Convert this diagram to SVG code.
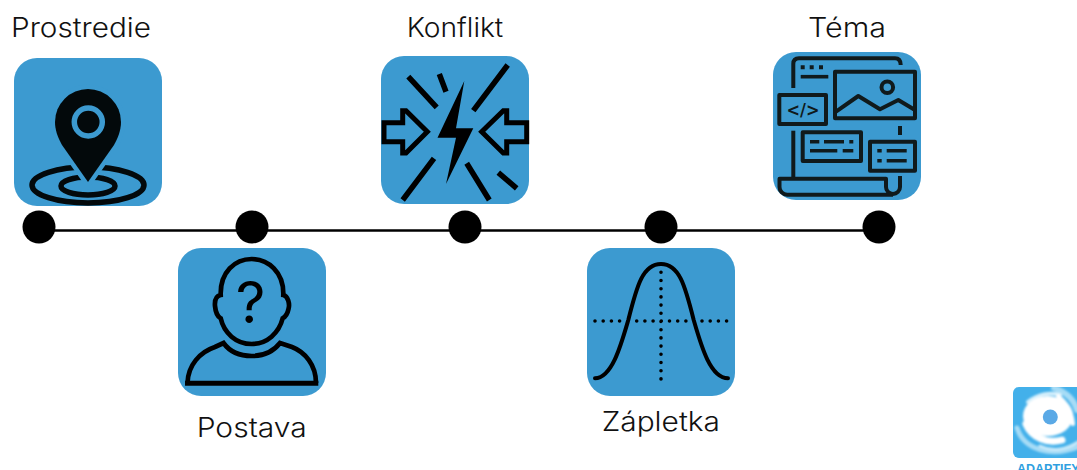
<svg xmlns="http://www.w3.org/2000/svg" width="1077" height="470" viewBox="0 0 1077 470">
<style>
.card{fill:#3c9ad0}
.lbl{font-family:"Inter","Noto Sans",sans-serif;font-weight:300;font-size:26.5px;fill:#111}
.ink{fill:none;stroke:#000;stroke-width:5;stroke-linejoin:miter}
.t{fill:none;stroke:#101a1c;stroke-width:4;stroke-linejoin:round}
.th{fill:none;stroke:#101a1c;stroke-width:3.6}
.dot{fill:#000}
.dots{fill:none;stroke:#000;stroke-width:3.6;stroke-linecap:round;stroke-dasharray:0 8.2}
</style>
<defs><filter id="soft" x="-10%" y="-10%" width="120%" height="120%"><feGaussianBlur stdDeviation="1"/></filter>
<clipPath id="logoclip"><rect x="1013" y="387" width="80" height="71" rx="6"/></clipPath></defs>
<rect width="1077" height="470" fill="#fff"/>
<g id="connectors">
<line x1="39" y1="230.500" x2="879" y2="230.500" stroke="#000" stroke-width="2.600"/>
</g>
<g id="dot-1"><circle class="dot" cx="39" cy="227" r="16.500"/></g>
<g id="dot-2"><circle class="dot" cx="252" cy="227" r="16.500"/></g>
<g id="dot-3"><circle class="dot" cx="465" cy="227" r="16.500"/></g>
<g id="dot-4"><circle class="dot" cx="661" cy="227" r="16.500"/></g>
<g id="dot-5"><circle class="dot" cx="879" cy="227" r="16.500"/></g>

<g id="prostredie">
<text class="lbl" x="11" y="37" textLength="140" lengthAdjust="spacingAndGlyphs">Prostredie</text>
<rect class="card" x="14" y="58" width="148" height="148" rx="23"/>
<ellipse cx="88" cy="185" rx="56" ry="18" fill="none" stroke="#03090b" stroke-width="5.500"/>
<ellipse cx="88" cy="186" rx="27" ry="9" fill="none" stroke="#03090b" stroke-width="5.500"/>
<path d="M88 182L62 145C58 138 55 130 55 122A33 33 0 0 1 121 122C121 130 118 138 114 145Z" fill="#03090b" stroke="#3c9ad0" stroke-width="9" paint-order="stroke"/>
<circle cx="88.300" cy="122" r="14" fill="#03090b" stroke="#3c9ad0" stroke-width="5.500"/>
</g>

<g id="konflikt">
<text class="lbl" x="406.700" y="36.700" textLength="96.600" lengthAdjust="spacingAndGlyphs">Konflikt</text>
<rect class="card" x="381" y="56" width="148" height="148" rx="23"/>
<polygon fill="#000" points="464.300,81 437.500,137.700 456,137.700 446,184 473.300,128.300 456,128.300"/>
<path class="ink" style="stroke-width:5.500" d="M408.300 76.700L436.700 107.300M439.300 74L446 91.700M507.700 65L473.300 110.700M434 158.300L402.700 200M466.700 163.300L489.300 200M498.300 172.700L516.700 188.300"/>
<path class="ink" d="M384 122.700H402.700V110.700H406L427.300 131.700L406 153H402.700V141.700H384Z"/>
<path class="ink" d="M526.700 122.700H506.700V110.700H503.300L481.700 131.700L503.300 153H506.700V141.700H526.700Z"/>
</g>

<g id="tema">
<text class="lbl" x="808" y="36.700" textLength="78" lengthAdjust="spacingAndGlyphs">Téma</text>
<rect class="card" x="773" y="52" width="148" height="148" rx="23"/>
<path class="t" d="M793.300 88V64Q793.300 58.300 799 58.300H895Q900.700 58.300 900.700 65"/>
<path fill="#101a1c" d="M800.700 65.300h4v4h-4zM809.700 65.300h4v4h-4zM819 65.300h4v4h-4z"/>
<path class="th" d="M800.700 76.700H828.300"/>
<rect class="t" x="835" y="71.700" width="80" height="46.600"/>
<circle class="t" cx="887.300" cy="87.300" r="5.800"/>
<path class="t" d="M836 111.700L858.300 96L880 109.300L898.300 100L915 110"/>
<rect class="t" x="779.300" y="95" width="46.700" height="29"/>
<text x="786.500" y="116" textLength="33" lengthAdjust="spacingAndGlyphs" font-family="'DejaVu Sans',sans-serif" font-weight="700" font-size="17" fill="#101a1c">&lt;/&gt;</text>
<path class="t" d="M793.300 130.700V178"/>
<rect class="t" x="802.700" y="132.300" width="58.300" height="28.700"/>
<path class="th" d="M810 141.700H819.300M824 141.700H844M849.300 141.700H853.300M810 150.700H837.300M842.700 150.700H853.300"/>
<rect class="t" x="870" y="141.700" width="45" height="29"/>
<path class="th" d="M877.300 150.700H881.700M886.700 150.700H906.700M877.300 160.700H881.700M886.700 160.700H906.700"/>
<path class="t" d="M900 126V135"/>
<path class="t" d="M900 176V187A7 7 0 0 1 886 187V178.700H779.500V187A7.700 7.700 0 0 0 787.200 194.700H893"/>
</g>

<g id="postava">
<rect class="card" x="178" y="248" width="148" height="148" rx="23"/>
<path class="ink" style="stroke-width:4.700" d="M220.700 295C220 272 235 259 251.700 259C268 259 284 272 283.300 295C288 296 290 304 288.500 309C287.500 314 285 317 282.700 318.300C279 333 267 344 251.700 344C236 344 224 333 220.700 318.300C218 317 215.500 312 215 306C214.500 300 216 296 220.700 295Z"/>
<path class="ink" style="stroke-width:4.700" d="M187.500 383C188 365 200 352 215 347L223.500 343C230 352 240 356 251.700 356C263 356 273 352 280 343L292 347C305 352 316 365 316 383"/>
<path d="M185 383.300H318.300" stroke="#000" stroke-width="5" fill="none"/>
<text x="250.500" y="323" text-anchor="middle" font-family="'Inter',sans-serif" font-weight="400" font-size="58" fill="#000">?</text>
<text class="lbl" x="196.700" y="437.300" textLength="110" lengthAdjust="spacingAndGlyphs">Postava</text>
</g>

<g id="zapletka">
<rect class="card" x="587" y="248" width="148" height="148" rx="23"/>
<path class="ink" style="stroke-width:4;stroke-linecap:round" d="M595 378.300C612 378 621 345 628.300 320C637 285 643 264 661 264C679 264 685 285 693.700 320C701 345 710 378 728 378.300"/>
<path class="dots" d="M595 321H621M636.700 321H686.500M702 321H727.500M661 272.300V380"/>
<text class="lbl" x="601.700" y="430.700" textLength="118.300" lengthAdjust="spacingAndGlyphs">Zápletka</text>
</g>

<g id="logo">
<rect x="1013" y="387" width="80" height="71" rx="6" fill="#43b0ea"/>
<g clip-path="url(#logoclip)"><g filter="url(#soft)" fill="none" stroke-linecap="round">
<path stroke="#a6dcf6" stroke-width="5" d="M1017 428C1024 450 1052 458 1080 446"/>
<path stroke="#c9eafa" stroke-width="3" d="M1040 446C1052 452 1066 450 1078 442"/>
<path stroke="#a6dcf6" stroke-width="6" d="M1054 388C1066 392 1074 400 1077 410"/>
<path stroke="#d9f1fc" stroke-width="4" d="M1028 402C1038 394 1050 392 1060 395"/>
<ellipse cx="1048" cy="416" rx="25" ry="20" fill="#fff" stroke="none"/>
<path stroke="#fff" stroke-width="7" d="M1026 424C1032 438 1048 444 1062 440"/>
<path stroke="#fff" stroke-width="4" d="M1058 396C1066 402 1072 412 1073 424"/>
</g></g>
<circle cx="1050.300" cy="417" r="7.500" fill="#5aa9e6"/>
<text x="1017" y="473" font-family="'Liberation Sans',sans-serif" font-weight="700" font-size="12.500" fill="#2f9fe0">ADAPTIFY</text>
</g>
</svg>
